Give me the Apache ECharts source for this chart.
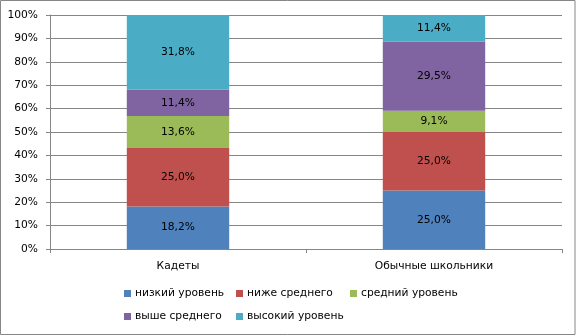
<!DOCTYPE html>
<html>
<head>
<meta charset="utf-8">
<script src="https://cdn.jsdelivr.net/npm/echarts@6/dist/echarts.min.js"></script>
<style>
  html, body { margin: 0; padding: 0; background: #fff; }
  #chart { width: 576px; height: 336px; }
</style>
</head>
<body>
<div id="chart"></div>
<script>
// Groups of students
const categories = ['Кадеты', 'Обычные школьники'];

// Share of students at each level, percent
const seriesNames = ['низкий уровень', 'ниже среднего', 'средний уровень', 'выше среднего', 'высокий уровень'];
const lowLevel = [18.2, 25.0];
const belowAverage = [25.0, 25.0];
const averageLevel = [13.6, 9.1];
const aboveAverage = [11.4, 29.5];
const highLevel = [31.8, 11.4];

const seriesValues = [lowLevel, belowAverage, averageLevel, aboveAverage, highLevel];
const colors = ['#4F81BD', '#C0504D', '#9BBB59', '#8064A2', '#4BACC6'];

const font = 'DejaVu Sans';
const size = 10.7;
const fmt = v => v.toFixed(1).replace('.', ',') + '%';

// legend laid out in a 3-column grid, two rows
const legendCols = [124, 236, 350];
const legendRows = [288, 311];

const chart = echarts.init(document.getElementById('chart'), null, { renderer: 'canvas' });

const legends = seriesNames.map((name, i) => ({
  data: [name],
  left: legendCols[i % 3],
  top: legendRows[Math.floor(i / 3)],
  padding: 0,
  itemWidth: 7, itemHeight: 7,
  icon: 'rect',
  textStyle: { fontFamily: font, fontSize: size, color: '#000', padding: [0, 0, 0, -1] }
}));

chart.setOption({
  animation: false,
  color: colors,
  textStyle: { fontFamily: font },
  graphic: [{
    type: 'rect',
    shape: { x: 0.5, y: 0.5, width: 574.5, height: 334 },
    style: { fill: 'none', stroke: '#868686', lineWidth: 1 },
    silent: true
  }],
  grid: { left: 50, right: 14, top: 15, bottom: 87 },
  legend: legends,
  xAxis: {
    type: 'category',
    data: categories,
    axisLine: { lineStyle: { color: '#868686' } },
    axisTick: { show: true, length: 4, lineStyle: { color: '#868686' } },
    axisLabel: { fontFamily: font, fontSize: size, color: '#000', margin: 12 }
  },
  yAxis: {
    type: 'value',
    min: 0, max: 100, interval: 10,
    axisLine: { show: true, lineStyle: { color: '#868686' } },
    axisTick: { show: true, length: 4, lineStyle: { color: '#868686' } },
    axisLabel: { fontFamily: font, fontSize: size, color: '#000', margin: 12, formatter: '{value}%' },
    splitLine: { lineStyle: { color: '#868686' } }
  },
  series: seriesNames.map((name, i) => ({
    name,
    type: 'bar',
    stack: 'total',
    barWidth: '40%',
    data: seriesValues[i],
    label: {
      show: true,
      position: 'inside',
      fontFamily: font,
      fontSize: size,
      color: '#000',
      formatter: p => fmt(p.value)
    }
  }))
});
</script>
</body>
</html>
